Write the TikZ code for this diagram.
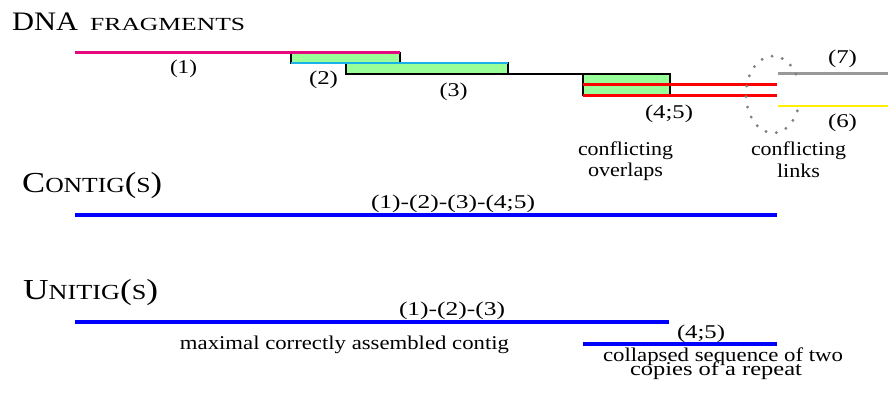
\documentclass[tikz,border=0pt]{standalone}
\usepackage{fontspec}
\setmainfont{Liberation Serif}
\newcommand{\fitw}[2]{\resizebox{#1pt}{\height}{#2}}
\newcommand{\bigf}{\fontsize{29}{30}\selectfont}
\newcommand{\smf}{\fontsize{21.5}{22}\selectfont}
\definecolor{fpink}{HTML}{E5097F}
\definecolor{fcyan}{HTML}{1AB0E8}
\definecolor{fgreen}{HTML}{99FF99}
\definecolor{fred}{HTML}{FF0000}
\definecolor{fgray}{HTML}{999999}
\definecolor{fyellow}{HTML}{FFEF00}
\definecolor{fdots}{HTML}{808080}
\definecolor{fblue}{HTML}{0000FF}
\begin{document}
\begin{tikzpicture}[x=1pt,y=-1pt,
  lbl/.style={inner sep=0pt, anchor=base, font=\fontsize{19.5}{21}\selectfont},
  head/.style={inner sep=0pt, anchor=base west},
  frag/.style={line width=2.4pt},
  thickfrag/.style={line width=2.7pt},
  ovbox/.style={fill=fgreen, draw=black, line width=1.6pt},
  contigline/.style={line width=4.2pt, fblue},
  dotloop/.style={fdots, line width=3.2pt, line cap=round, dash pattern=on 0pt off 10.6pt}]
\useasboundingbox (0,0) rectangle (888,393);
% fragment end points
\coordinate (p1s) at (75,52.5);  \coordinate (p1e) at (400,52.5);
\coordinate (p2s) at (291,63);   \coordinate (p2e) at (508,63);
\coordinate (p3s) at (346,74);   \coordinate (p3e) at (670,74);
\coordinate (p4s) at (583,84.5); \coordinate (p4e) at (777,84.5);
\coordinate (p5s) at (583,95.5); \coordinate (p5e) at (777,95.5);
\coordinate (p7s) at (778,73.7); \coordinate (p7e) at (888,73.7);
\coordinate (p6s) at (778,106);  \coordinate (p6e) at (888,106);
% overlap boxes
\draw[ovbox] (p2s) rectangle (p1e);
\draw[ovbox] (p3s) rectangle (p2e);
\draw[ovbox] (p5s) rectangle (p3e);
% fragments
\draw[frag, fpink] (p1s) -- (p1e);
\draw[frag, fcyan] (p2s) -- (p2e);
\draw[frag, black] (p3s) -- (p3e);
\draw[thickfrag, fred] (p4s) -- (p4e);
\draw[thickfrag, fred] (p5s) -- (p5e);
\draw[thickfrag, fgray] (p7s) -- (p7e);
\draw[thickfrag, fyellow] (p6s) -- (p6e);
% dotted loop
\coordinate (loopstart) at (795.9,74.1);
\draw[dotloop] (loopstart) arc[start angle=32, end angle=339.5, x radius=27pt, y radius=38.5pt];
% fragment labels
\node[lbl] (l1) at (183.5,73.5) {\fitw{27}{(1)}};
\node[lbl] (l2) at (323.5,84.5) {\fitw{29}{(2)}};
\node[lbl] (l3) at (453.5,96) {\fitw{28}{(3)}};
\node[lbl] (l45) at (669,118.5) {\fitw{48}{(4;5)}};
\node[lbl] (l7) at (842.5,63.5) {\fitw{29}{(7)}};
\node[lbl] (l6) at (842.5,127.5) {\fitw{29}{(6)}};
\node[lbl] (co1) at (625.5,155) {\fitw{95}{conflicting}};
\node[lbl] (co2) at (625.5,176.5) {\fitw{75}{overlaps}};
\node[lbl] (cl1) at (798.5,155) {\fitw{95}{conflicting}};
\node[lbl] (cl2) at (798.5,177) {\fitw{43}{links}};
% headings
\node[head] (t1) at (12,30.7) {\fitw{66}{\fontsize{26.7}{28}\selectfont DNA}};
\node[head] (t2) at (90,30.7) {\fitw{155}{\fontsize{18.5}{19}\selectfont FRAGMENTS}};
\node[head] (hcontig) at (22,192.5) {\fitw{140}{\bigf C\smf ONTIG\bigf(\smf S\bigf)}};
\node[head] (hunitig) at (23,299) {\fitw{135}{\bigf U\smf NITIG\bigf(\smf S\bigf)}};
% contig
\coordinate (cs) at (75,214.7); \coordinate (ce) at (777,214.7);
\draw[contigline] (cs) -- (ce);
\node[lbl] (clbl) at (453,208) {\fitw{164}{(1)-(2)-(3)-(4;5)}};
% unitigs
\coordinate (u1s) at (75,322.2); \coordinate (u1e) at (669,322.2);
\coordinate (u2s) at (583,343.8); \coordinate (u2e) at (777,343.8);
\draw[contigline] (u1s) -- (u1e);
\draw[contigline] (u2s) -- (u2e);
\node[lbl] (u1lbl) at (452,315.5) {\fitw{106}{(1)-(2)-(3)}};
\node[lbl] (u2lbl) at (701,338.5) {\fitw{48}{(4;5)}};
\node[lbl] (maxl) at (344.5,349.5) {\fitw{329}{maximal correctly assembled contig}};
\node[lbl] (col1) at (723,361.5) {\fitw{240}{collapsed sequence of two}};
\node[lbl] (col2) at (716,375.5) {\fitw{172}{copies of a repeat}};
\end{tikzpicture}
\end{document}
